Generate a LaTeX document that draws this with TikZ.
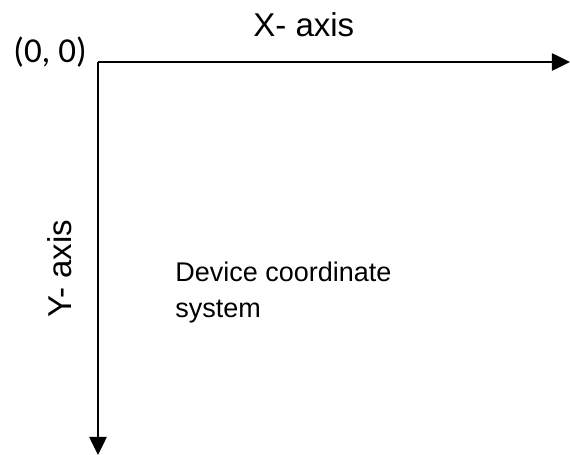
\documentclass[tikz,border=0pt]{standalone}
\usepackage{fontspec}
\setmainfont{Liberation Sans}
\newfontfamily\calibrifont{Carlito}
\usetikzlibrary{arrows.meta,positioning}
\tikzset{%
  axisline/.style={line width=1.3pt,-{Triangle[length=9pt,width=8.5pt]}},
  axislabel/.style={font=\fontsize{16.5}{20}\selectfont,inner sep=0pt},
  bodytext/.style={font=\fontsize{13.5}{18}\selectfont,align=left,inner sep=0pt}
}
\begin{document}
\begin{tikzpicture}[x=0.5pt,y=-0.5pt]
% ---- frame (pixel grid of the reference) ----
\useasboundingbox (0,0) rectangle (570,455);

% ---- axes ----
\coordinate (origin) at (98,62);
\coordinate (xend)   at (570,62);
\coordinate (yend)   at (98,455);
\draw[axisline] (origin) -- (xend);
\draw[axisline] (origin) -- (yend);

% ---- labels ----
\node[inner sep=0pt,anchor=base west,font=\calibrifont\fontsize{17.5}{20}\selectfont]
  (olabel) at (13,62) {(0, 0)};
\node[axislabel,anchor=base west] (xlabel) at (253,37) {X- axis};
\node[axislabel,anchor=base west,rotate=90] (ylabel) at (71,318) {Y- axis};
% base anchor sits on the last line
\node[bodytext,anchor=base west] (devlabel) at (175,318) {Device coordinate\\system};

\end{tikzpicture}
\end{document}
